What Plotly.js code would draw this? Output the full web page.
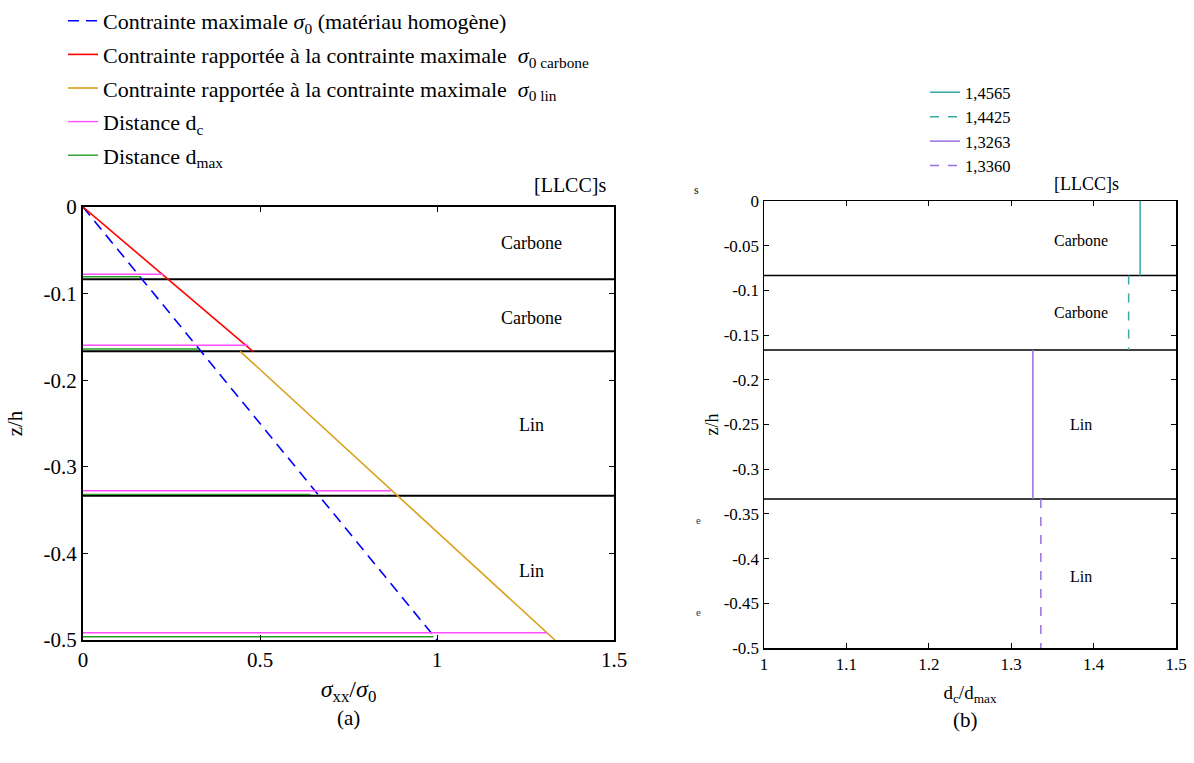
<!DOCTYPE html>
<html><head><meta charset="utf-8">
<script src="https://cdn.plot.ly/plotly-3.0.1.min.js"></script>
<style>body{margin:0;background:#fff}#chart{width:1194px;height:763px}</style>
</head><body><div id="chart"></div>
<script>
// ---- data ----
const layerBounds = [-0.0833, -0.1667, -0.3333];
const sigma0X = [0, 1];            const sigma0Z = [0, -0.5];
const carboneX = [0, 0.48];        const carboneZ = [0, -0.1667];
const linX = [0.444, 1.333];       const linZ = [-0.1667, -0.5];
const dcZ = [-0.0777, -0.1597, -0.3276, -0.4916];
const dcX = [0.227, 0.467, 0.870, 1.31];
const dmaxZ = [-0.0805, -0.164, -0.3318, -0.4962];
const dmaxX = [0.164, 0.326, 0.643, 0.99];
const ratioNames = ['1,4565', '1,4425', '1,3263', '1,3360'];
const ratioVals = [1.4565, 1.4425, 1.3263, 1.3360];
const ratioTop = [0, -0.0833, -0.1667, -0.3333];
const ratioBot = [-0.0833, -0.1667, -0.3333, -0.5];
const leftXTicks = [0, 0.5, 1, 1.5];      const leftXText = ['0', '0.5', '1', '1.5'];
const leftYTicks = [0, -0.1, -0.2, -0.3, -0.4, -0.5];
const leftYText = ['0', '-0.1', '-0.2', '-0.3', '-0.4', '-0.5'];
const rightXTicks = [1, 1.1, 1.2, 1.3, 1.4, 1.5];
const rightXText = ['1', '1.1', '1.2', '1.3', '1.4', '1.5'];
const rightYTicks = [0, -0.05, -0.1, -0.15, -0.2, -0.25, -0.3, -0.35, -0.4, -0.45, -0.5];
const rightYText = ['0', '-0.05', '-0.1', '-0.15', '-0.2', '-0.25', '-0.3', '-0.35', '-0.4', '-0.45', '-0.5'];
const leftLabels = ['Carbone', 'Carbone', 'Lin', 'Lin'];
const leftLabelZ = [-0.0416, -0.128, -0.252, -0.42];
const rightLabelZ = [-0.0447, -0.125, -0.25, -0.42];

const FONT = 'Liberation Serif';
const W = 1194, H = 763;
const px = v => v / W, py = v => 1 - v / H;

function segs(xs, zs, x0) {
  const X = [], Y = [];
  xs.forEach((x, i) => { X.push(x0, x, null); Y.push(zs[i], zs[i], null); });
  return {X, Y};
}
const traces = [];
layerBounds.forEach(b => traces.push({x: [0, 1.5], y: [b, b], mode: 'lines', line: {color: '#000', width: 2}, showlegend: false, hoverinfo: 'skip', xaxis: 'x', yaxis: 'y'}));
traces.push({x: sigma0X, y: sigma0Z, mode: 'lines', name: 'Contrainte maximale <i>σ</i><sub>0</sub> (matériau homogène)', line: {color: '#0000ff', width: 1.6, dash: '11px,7px'}, legendgroup: 'a', xaxis: 'x', yaxis: 'y'});
traces.push({x: carboneX, y: carboneZ, mode: 'lines', name: 'Contrainte rapportée à la contrainte maximale  <i>σ</i><sub>0 carbone</sub>', line: {color: '#ff0000', width: 1.6}, legendgroup: 'b', xaxis: 'x', yaxis: 'y'});
traces.push({x: linX, y: linZ, mode: 'lines', name: 'Contrainte rapportée à la contrainte maximale  <i>σ</i><sub>0 lin</sub>', line: {color: '#d9a01c', width: 1.6}, legendgroup: 'c', xaxis: 'x', yaxis: 'y'});
const dc = segs(dcX, dcZ, 0);
traces.push({x: dc.X, y: dc.Y, mode: 'lines', name: 'Distance d<sub>c</sub>', line: {color: '#ff4dff', width: 1.4}, legendgroup: 'd', connectgaps: false, xaxis: 'x', yaxis: 'y'});
const dm = segs(dmaxX, dmaxZ, 0);
traces.push({x: dm.X, y: dm.Y, mode: 'lines', name: 'Distance d<sub>max</sub>', line: {color: '#22a022', width: 1.4}, legendgroup: 'e', connectgaps: false, xaxis: 'x', yaxis: 'y'});
layerBounds.forEach(b => traces.push({x: [1, 1.5], y: [b, b], mode: 'lines', line: {color: '#000', width: 1.5}, showlegend: false, hoverinfo: 'skip', xaxis: 'x2', yaxis: 'y2'}));
const rColors = ['#3aa8a4', '#3aa8a4', '#9a70e0', '#9a70e0'];
const rDash = ['solid', 'dash', 'solid', 'dash'];
ratioVals.forEach((v, i) => traces.push({x: [v, v], y: [ratioTop[i], ratioBot[i]], mode: 'lines', name: ratioNames[i], line: {color: rColors[i], width: 1.5, dash: rDash[i]}, legend: 'legend2', legendgroup: 'r' + i, xaxis: 'x2', yaxis: 'y2'}));

const axBase = {showline: true, linecolor: '#000', mirror: 'ticks', ticks: 'inside', ticklen: 5, tickcolor: '#000', showgrid: false, zeroline: false, tickmode: 'array'};
const annotations = [];
function ann(x, y, text, size, extra) {
  annotations.push(Object.assign({x: x, y: y, xref: 'paper', yref: 'paper', text: text, showarrow: false, xanchor: 'center', yanchor: 'middle', font: {family: FONT, size: size, color: '#000'}}, extra || {}));
}
leftLabels.forEach((t, i) => ann(1.266, leftLabelZ[i], t, 18, {xref: 'x', yref: 'y'}));
leftLabels.forEach((t, i) => ann(1.385, rightLabelZ[i], t, 16, {xref: 'x2', yref: 'y2'}));
ann(px(532), py(185), '[LLCC]s', 20, {xanchor: 'left'});
ann(px(1052), py(184), '[LLCC]s', 18, {xanchor: 'left'});
ann(px(348), py(718), '(a)', 21);
ann(px(965), py(720), '(b)', 21);
ann(px(696), py(190), 's', 12);
ann(px(698), py(520), 'e', 11, {font: {family: FONT, size: 11, color: '#444'}});
ann(px(698), py(612), 'e', 11, {font: {family: FONT, size: 11, color: '#444'}});

const layout = {
  width: W, height: H, margin: {l: 0, r: 0, t: 0, b: 0},
  paper_bgcolor: '#fff', plot_bgcolor: '#fff',
  font: {family: FONT, color: '#000'},
  showlegend: true,
  xaxis: Object.assign({}, axBase, {domain: [px(83), px(614)], range: [0, 1.5], tickvals: leftXTicks, ticktext: leftXText, linewidth: 2, tickfont: {family: FONT, size: 21}, anchor: 'y',
    title: {text: '<i>σ</i><sub>xx</sub>/<i>σ</i><sub>0</sub>', font: {family: FONT, size: 24}, standoff: 9}}),
  yaxis: Object.assign({}, axBase, {domain: [1 - 640 / H, 1 - 207 / H], range: [-0.5, 0], tickvals: leftYTicks, ticktext: leftYText, linewidth: 2, tickfont: {family: FONT, size: 21}, anchor: 'x',
    title: {text: 'z/h', font: {family: FONT, size: 21}, standoff: 15}}),
  xaxis2: Object.assign({}, axBase, {domain: [px(764), px(1176)], range: [1, 1.5], tickvals: rightXTicks, ticktext: rightXText, linewidth: 1.5, tickfont: {family: FONT, size: 17}, anchor: 'y2',
    title: {text: 'd<sub>c</sub>/d<sub>max</sub>', font: {family: FONT, size: 19}, standoff: 13}}),
  yaxis2: Object.assign({}, axBase, {domain: [1 - 648 / H, 1 - 201 / H], range: [-0.5, 0], tickvals: rightYTicks, ticktext: rightYText, linewidth: 1.5, tickfont: {family: FONT, size: 17}, anchor: 'x2',
    title: {text: 'z/h', font: {family: FONT, size: 18}, standoff: 0}}),
  legend: {x: px(63), y: 1, xanchor: 'left', yanchor: 'top', bgcolor: 'rgba(0,0,0,0)', font: {family: FONT, size: 22, color: '#000'}, traceorder: 'grouped', tracegroupgap: 2, itemclick: false, itemdoubleclick: false},
  legend2: {x: px(925), y: py(75), xanchor: 'left', yanchor: 'top', bgcolor: 'rgba(0,0,0,0)', font: {family: FONT, size: 16.5, color: '#000'}, traceorder: 'grouped', tracegroupgap: 0, itemclick: false, itemdoubleclick: false},
  annotations: annotations
};
Plotly.newPlot('chart', traces, layout, {displayModeBar: false, staticPlot: true});
</script></body></html>
